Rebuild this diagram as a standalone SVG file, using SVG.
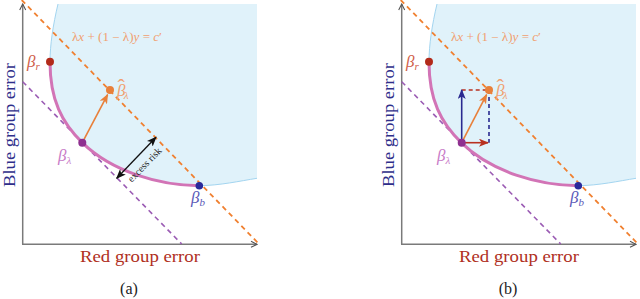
<svg xmlns="http://www.w3.org/2000/svg" width="640" height="299" viewBox="0 0 640 299">
<style>
.region{fill:#e0f2fa;stroke:none}
.redge{fill:none;stroke:#a3d5f0;stroke-width:1}
.axis{fill:none;stroke:#7a7a7a;stroke-width:1.5}
.pdash{fill:none;stroke:#9b5cb4;stroke-width:1.6;stroke-dasharray:5,4}
.odash{fill:none;stroke:#f08030;stroke-width:1.8;stroke-dasharray:5,4}
.curve{fill:none;stroke:#d274b6;stroke-width:3}
.serif{font-family:"Liberation Serif","DejaVu Serif",serif}
.it{font-style:italic}
.eq{font-size:11.5px;fill:#f0a070}
.beta{font-size:17px;font-style:italic}
.sub{font-size:11px;font-style:italic}
.hat{font-size:22px;font-style:normal}
.axlbl{font-size:17px}
.cap{font-size:16px;fill:#222}
</style>
<defs>
<marker id="axhead" viewBox="0 0 8 8" refX="7" refY="4" markerWidth="8" markerHeight="8" markerUnits="userSpaceOnUse" orient="auto">
<path d="M1,1 L7,4 L1,7" fill="none" stroke="#555" stroke-width="1.1"/>
</marker>
<marker id="hOrange" viewBox="0 0 10 8" refX="9" refY="4" markerWidth="10" markerHeight="8" markerUnits="userSpaceOnUse" orient="auto">
<path d="M0,0 L10,4 L0,8 L2.5,4 Z" fill="#e8803a"/>
</marker>
<marker id="hBlack" viewBox="0 0 10 8" refX="9" refY="4" markerWidth="10" markerHeight="8" markerUnits="userSpaceOnUse" orient="auto-start-reverse">
<path d="M0,0 L10,4 L0,8 L2.5,4 Z" fill="#111"/>
</marker>
<marker id="hBlue" viewBox="0 0 10 8" refX="9" refY="4" markerWidth="10" markerHeight="8" markerUnits="userSpaceOnUse" orient="auto">
<path d="M0,0 L10,4 L0,8 L2.5,4 Z" fill="#2a2a90"/>
</marker>
<marker id="hRed" viewBox="0 0 10 8" refX="9" refY="4" markerWidth="10" markerHeight="8" markerUnits="userSpaceOnUse" orient="auto">
<path d="M0,0 L10,4 L0,8 L2.5,4 Z" fill="#b83020"/>
</marker>
</defs>
<rect width="640" height="299" fill="#ffffff"/>

<!-- Panel (a) -->
<g id="panel-a">
<g id="region-a">
<path class="region" d="M58,4 C53,25 50,45 50,62 C50,100 62,123 82.3,142.7 C112,172 160,185.5 199.3,185.7 C220,185.5 240,181 257,178.3 L257,4 Z"/>
<path class="redge" d="M58,4 C53,25 50,45 50,62"/>
<path class="redge" d="M199.3,185.7 C220,185.5 240,181 257,178.3"/>
</g>
<g id="axes-a">
<line class="axis" x1="22.7" y1="244.3" x2="22.7" y2="4" marker-end="url(#axhead)"/>
<line class="axis" x1="22" y1="244.3" x2="257" y2="244.3" marker-end="url(#axhead)"/>
<text class="serif axlbl" fill="#2e2e8a" transform="translate(15,125) rotate(-90)" text-anchor="middle" textLength="124" lengthAdjust="spacingAndGlyphs">Blue group error</text>
<text class="serif axlbl" fill="#b0301e" x="140" y="262" text-anchor="middle" textLength="120" lengthAdjust="spacingAndGlyphs">Red group error</text>
</g>
<g id="connectors-a">
<line class="pdash" x1="22.7" y1="81.7" x2="181.7" y2="244"/>
<line class="odash" x1="21.7" y1="0" x2="260" y2="245"/>
<path class="curve" d="M50,62 C50,100 62,123 82.3,142.7 C112,172 160,185.5 199.3,185.7"/>
<line x1="82.3" y1="142.7" x2="107.6" y2="94.6" stroke="#e8803a" stroke-width="1.6" marker-end="url(#hOrange)"/>
<line x1="116.7" y1="178.3" x2="156" y2="137.3" stroke="#111" stroke-width="1.3" marker-start="url(#hBlack)" marker-end="url(#hBlack)"/>
<text class="serif" font-size="10" fill="#222" transform="translate(147,167) rotate(-46)" text-anchor="middle">excess risk</text>
</g>
<g id="eq-a">
<text class="serif eq" x="72" y="41" textLength="90" lengthAdjust="spacingAndGlyphs">λ<tspan class="it">x</tspan> + (1 − λ)<tspan class="it">y</tspan> = <tspan class="it">c</tspan>′</text>
</g>
<g id="node-beta-r-a">
<circle cx="50" cy="61.7" r="4" fill="#b22a1a"/>
<text class="serif beta" x="27" y="67" fill="#d0604a">β<tspan class="sub" dy="2.5">r</tspan></text>
</g>
<g id="node-beta-hat-a">
<circle cx="110" cy="90" r="4" fill="#e8803a"/>
<text class="serif beta" x="117" y="96" fill="#f0a070">β<tspan class="hat" dx="-8" dy="-2">ˆ</tspan><tspan class="sub" dx="-1" dy="5">λ</tspan></text>
</g>
<g id="node-beta-lambda-a">
<circle cx="82.3" cy="142.7" r="4" fill="#8e3090"/>
<text class="serif beta" x="58" y="161" fill="#c87cc8">β<tspan class="sub" dy="3">λ</tspan></text>
</g>
<g id="node-beta-b-a">
<circle cx="199.3" cy="185.7" r="3.8" fill="#2a2a9a"/>
<text class="serif beta" x="191" y="203" fill="#5a5ab8">β<tspan class="sub" dy="3">b</tspan></text>
</g>
<text class="serif cap" x="129" y="294" text-anchor="middle">(a)</text>
</g>

<!-- Panel (b) -->
<g id="panel-b" transform="translate(379,0)">
<g id="region-b">
<path class="region" d="M58,4 C53,25 50,45 50,62 C50,100 62,123 82.3,142.7 C112,172 160,185.5 199.3,185.7 C220,185.5 240,181 257,178.3 L257,4 Z"/>
<path class="redge" d="M58,4 C53,25 50,45 50,62"/>
<path class="redge" d="M199.3,185.7 C220,185.5 240,181 257,178.3"/>
</g>
<g id="axes-b">
<line class="axis" x1="22.7" y1="244.3" x2="22.7" y2="4" marker-end="url(#axhead)"/>
<line class="axis" x1="22" y1="244.3" x2="257" y2="244.3" marker-end="url(#axhead)"/>
<text class="serif axlbl" fill="#2e2e8a" transform="translate(15,125) rotate(-90)" text-anchor="middle" textLength="124" lengthAdjust="spacingAndGlyphs">Blue group error</text>
<text class="serif axlbl" fill="#b0301e" x="140" y="262" text-anchor="middle" textLength="120" lengthAdjust="spacingAndGlyphs">Red group error</text>
</g>
<g id="connectors-b">
<line class="pdash" x1="22.7" y1="81.7" x2="181.7" y2="244"/>
<line class="odash" x1="21.7" y1="0" x2="260" y2="245"/>
<path class="curve" d="M50,62 C50,100 62,123 82.3,142.7 C112,172 160,185.5 199.3,185.7"/>
<line x1="82.7" y1="90" x2="110" y2="90" stroke="#b83020" stroke-width="1.6" stroke-dasharray="4,3"/>
<line x1="110" y1="90" x2="110" y2="142.7" stroke="#2a2a90" stroke-width="1.6" stroke-dasharray="4,3"/>
<line x1="82.7" y1="142.7" x2="82.7" y2="90" stroke="#2a2a90" stroke-width="1.6" marker-end="url(#hBlue)"/>
<line x1="82.7" y1="142.7" x2="109" y2="142.7" stroke="#b83020" stroke-width="1.6" marker-end="url(#hRed)"/>
<line x1="82.7" y1="142.7" x2="107.6" y2="94.6" stroke="#e8803a" stroke-width="1.6" marker-end="url(#hOrange)"/>
</g>
<g id="eq-b">
<text class="serif eq" x="72" y="41" textLength="90" lengthAdjust="spacingAndGlyphs">λ<tspan class="it">x</tspan> + (1 − λ)<tspan class="it">y</tspan> = <tspan class="it">c</tspan>′</text>
</g>
<g id="node-beta-r-b">
<circle cx="50" cy="61.7" r="4" fill="#b22a1a"/>
<text class="serif beta" x="27" y="67" fill="#d0604a">β<tspan class="sub" dy="2.5">r</tspan></text>
</g>
<g id="node-beta-hat-b">
<circle cx="110" cy="90" r="4" fill="#e8803a"/>
<text class="serif beta" x="117" y="96" fill="#f0a070">β<tspan class="hat" dx="-8" dy="-2">ˆ</tspan><tspan class="sub" dx="-1" dy="5">λ</tspan></text>
</g>
<g id="node-beta-lambda-b">
<circle cx="82.7" cy="142.7" r="4" fill="#8e3090"/>
<text class="serif beta" x="58" y="161" fill="#c87cc8">β<tspan class="sub" dy="3">λ</tspan></text>
</g>
<g id="node-beta-b-b">
<circle cx="199.3" cy="185.7" r="3.8" fill="#2a2a9a"/>
<text class="serif beta" x="191" y="203" fill="#5a5ab8">β<tspan class="sub" dy="3">b</tspan></text>
</g>
<text class="serif cap" x="129" y="294" text-anchor="middle">(b)</text>
</g>
</svg>
